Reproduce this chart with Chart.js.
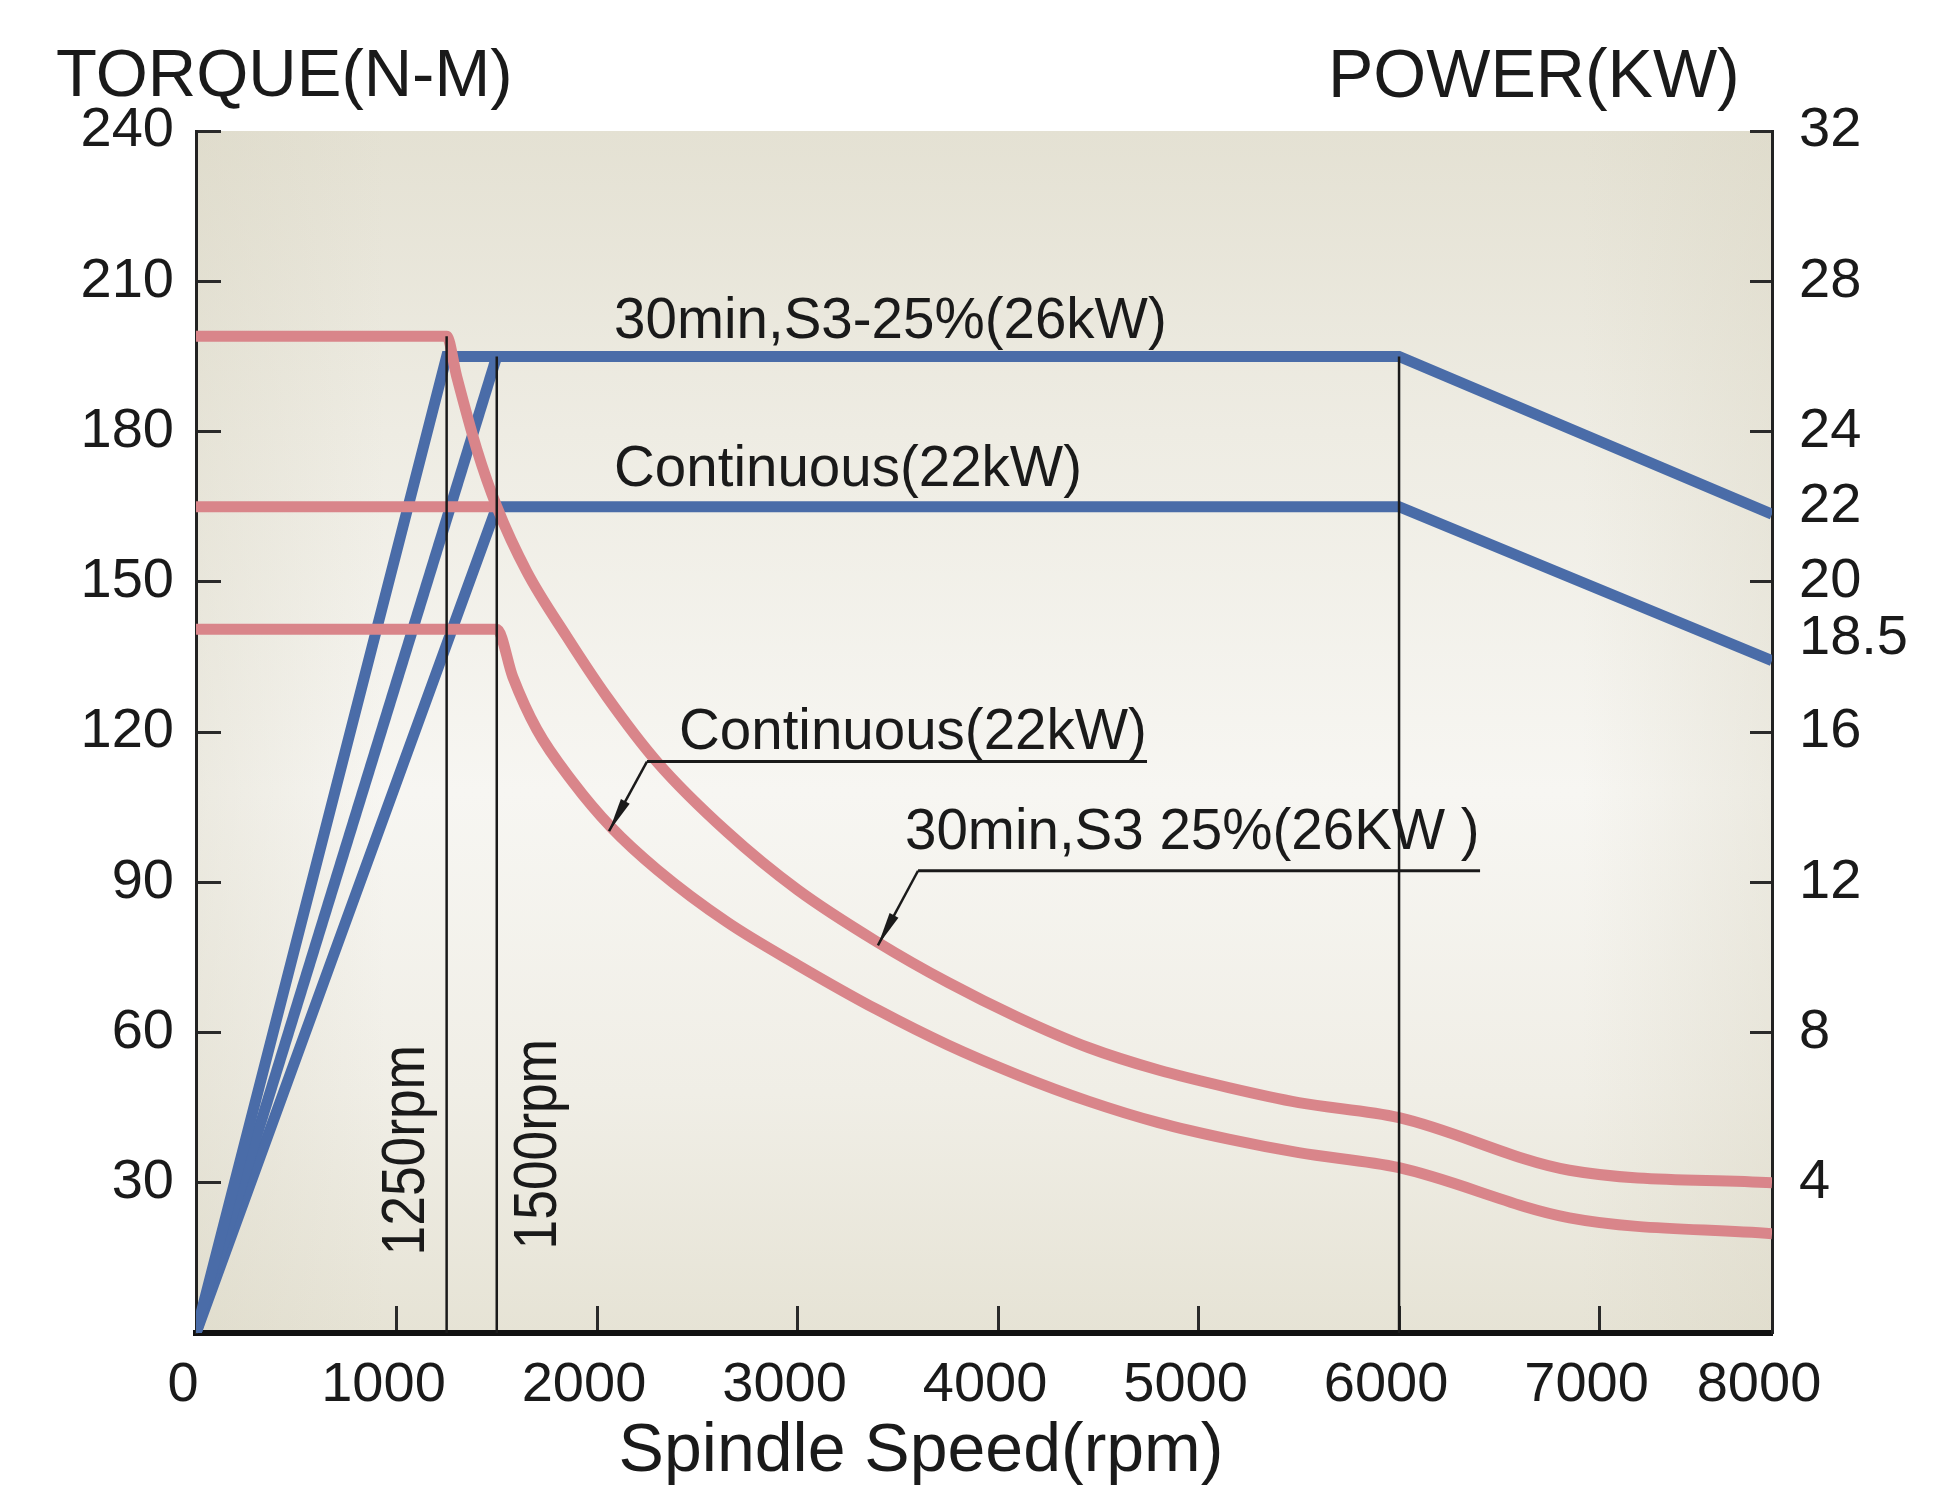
<!DOCTYPE html>
<html>
<head>
<meta charset="utf-8">
<script src="https://cdn.jsdelivr.net/npm/chart.js@4.4.1/dist/chart.umd.min.js"></script>
<style>
html,body{margin:0;padding:0;background:#ffffff;}
#wrap{width:1950px;height:1489px;}
</style>
</head>
<body>
<div id="wrap"><canvas id="c" width="1950" height="1489"></canvas></div>
<script>
// ---------- data ----------
const speedTicks      = [0, 1000, 2000, 3000, 4000, 5000, 6000, 7000, 7860];
const speedTickLabels = ['0','1000','2000','3000','4000','5000','6000','7000','8000'];
const torqueTicks     = [30, 60, 90, 120, 150, 180, 210, 240];
const powerTicks      = [4, 8, 12, 16, 18.5, 20, 22, 24, 28, 32];
const powerTicksNoMark = [18.5, 22];

// Torque (N-M), left axis
const s3TorqueSpeed   = [0, 1250, 1300, 1400, 1500, 1650, 1850, 2050, 2300, 2650, 3000, 3400, 3750, 4100, 4450, 4800, 5150, 5500, 6000, 6850, 7860];
const s3Torque        = [199, 199, 191, 176.5, 165, 152, 139, 127, 114, 100, 88.5, 78, 70, 63, 57, 52.5, 49, 46, 43, 32.5, 30];
const s3bTorqueSpeed  = [0, 1500];
const s3bTorque       = [165, 165];
const contTorqueSpeed = [0, 1500, 1580, 1700, 1880, 2070, 2300, 2650, 3000, 3400, 3750, 4100, 4450, 4800, 5150, 5500, 6000, 6850, 7860];
const contTorque      = [140.5, 140.5, 131, 120.5, 110, 101, 92.5, 82, 73.5, 64.5, 57.5, 51.5, 46.3, 42, 38.7, 36, 33, 23, 19.8];

// Power (KW), right axis
const s3PowerSpeed    = [0, 1250, 6000, 7860];
const s3Power         = [0, 26, 26, 21.8];
const s3bPowerSpeed   = [0, 1500];
const s3bPower        = [0, 26];
const contPowerSpeed  = [0, 1500, 6000, 7860];
const contPower       = [0, 22, 22, 17.9];

// base-speed marker lines
const mark1250Speed = [1250, 1250]; const mark1250Torque = [0, 199];
const mark1500Speed = [1500, 1500]; const mark1500Power  = [0, 26];
const mark6000Speed = [6000, 6000]; const mark6000Power  = [0, 26];

// ---------- helpers ----------
const FONT = '"Liberation Sans", Arial, Helvetica, sans-serif';
const BLUE = '#4a6ca8';
const RED  = '#d9858a';
const INK  = '#1a1a1a';
const pts = (xs, ys) => xs.map((x, i) => ({x: x, y: ys[i]}));

function lineDs(xs, ys, axis, color, width, order, smooth) {
  return {
    data: pts(xs, ys), yAxisID: axis, borderColor: color, borderWidth: width,
    pointRadius: 0, fill: false, order: order, tension: 0,
    cubicInterpolationMode: smooth ? 'monotone' : 'default',
    borderCapStyle: 'butt', borderJoinStyle: smooth ? 'round' : 'miter'
  };
}

const notes = [
  {text: '30min,S3-25%(26kW)', x: 2085, t: 198.7},
  {text: 'Continuous(22kW)',   x: 2085, t: 169.2},
  {text: 'Continuous(22kW)',   x: 2409, t: 116.7, line: {x1: 2249, x2: 4743, t: 114.1}, tip: {x: 2060, t: 100.2}},
  {text: '30min,S3 25%(26KW )', x: 3536, t: 96.6, line: {x1: 3601, x2: 6404, t: 92.3}, tip: {x: 3401, t: 77.4}}
];
const rotNotes = [
  {text: '1250rpm', x: 1050, t: 36.5},
  {text: '1500rpm', x: 1710, t: 37.7}
];

function arrow(ctx, x1, y1, x2, y2) {
  ctx.beginPath(); ctx.moveTo(x1, y1); ctx.lineTo(x2, y2); ctx.stroke();
  const a = Math.atan2(y2 - y1, x2 - x1), L = 34, W = 5;
  ctx.beginPath();
  ctx.moveTo(x2, y2);
  ctx.lineTo(x2 - L*Math.cos(a) + W*Math.sin(a), y2 - L*Math.sin(a) - W*Math.cos(a));
  ctx.lineTo(x2 - L*Math.cos(a) - W*Math.sin(a), y2 - L*Math.sin(a) + W*Math.cos(a));
  ctx.closePath(); ctx.fill();
}

const decor = {
  id: 'decor',
  beforeDraw(chart) {
    const {ctx, chartArea: a} = chart;
    ctx.save();
    const g = ctx.createLinearGradient(0, a.top, 0, a.bottom);
    g.addColorStop(0, '#e4e1d3');
    g.addColorStop(0.25, '#eeece3');
    g.addColorStop(0.55, '#f7f6f2');
    g.addColorStop(0.8, '#f0eee6');
    g.addColorStop(1, '#e6e3d5');
    ctx.fillStyle = g;
    ctx.fillRect(a.left, a.top, a.right - a.left, a.bottom - a.top);
    const h = ctx.createLinearGradient(a.left, 0, a.right, 0);
    h.addColorStop(0, 'rgba(215,211,192,0.35)');
    h.addColorStop(0.12, 'rgba(215,211,192,0)');
    h.addColorStop(0.88, 'rgba(215,211,192,0)');
    h.addColorStop(1, 'rgba(215,211,192,0.35)');
    ctx.fillStyle = h;
    ctx.fillRect(a.left, a.top, a.right - a.left, a.bottom - a.top);
    ctx.restore();
  },
  afterDatasetsDraw(chart) {
    const {ctx} = chart;
    const sx = chart.scales.x, st = chart.scales.torque;
    ctx.save();
    ctx.fillStyle = INK; ctx.strokeStyle = INK;
    ctx.font = '56.5px ' + FONT;
    ctx.textAlign = 'left'; ctx.textBaseline = 'alphabetic';
    notes.forEach(n => {
      ctx.fillText(n.text, sx.getPixelForValue(n.x), st.getPixelForValue(n.t));
      if (n.line) {
        const ly = st.getPixelForValue(n.line.t);
        const lx1 = sx.getPixelForValue(n.line.x1), lx2 = sx.getPixelForValue(n.line.x2);
        ctx.lineWidth = 3;
        ctx.beginPath(); ctx.moveTo(lx1, ly); ctx.lineTo(lx2, ly); ctx.stroke();
        ctx.lineWidth = 2.5;
        arrow(ctx, lx1, ly, sx.getPixelForValue(n.tip.x), st.getPixelForValue(n.tip.t));
      }
    });
    ctx.font = '62px ' + FONT;
    ctx.textAlign = 'center'; ctx.textBaseline = 'middle';
    rotNotes.forEach(n => {
      ctx.save();
      ctx.translate(sx.getPixelForValue(n.x), st.getPixelForValue(n.t));
      ctx.rotate(-Math.PI / 2);
      ctx.scale(0.86, 1);
      ctx.fillText(n.text, 0, 0);
      ctx.restore();
    });
    ctx.restore();
  },
  afterDraw(chart) {
    const {ctx} = chart;
    ctx.save();
    ctx.fillStyle = INK;
    ctx.textBaseline = 'middle';
    ctx.textAlign = 'left';
    ctx.font = '67px ' + FONT;
    ctx.fillText('TORQUE(N-M)', 56, 78);
    ctx.font = '68px ' + FONT;
    ctx.fillText('POWER(KW)', 1328, 78);
    ctx.textAlign = 'center';
    ctx.fillText('Spindle Speed(rpm)', 921, 1452);
    ctx.restore();
  }
};

const tickFont = {family: FONT, size: 56};

new Chart(document.getElementById('c'), {
  type: 'line',
  data: {
    datasets: [
      Object.assign(lineDs(mark1250Speed, mark1250Torque, 'torque', INK, 2.5, 0, false), {label: '1250rpm'}),
      Object.assign(lineDs(mark1500Speed, mark1500Power, 'power', INK, 2.5, 0, false), {label: '1500rpm'}),
      Object.assign(lineDs(mark6000Speed, mark6000Power, 'power', INK, 2.5, 0, false), {label: '6000rpm'}),
      Object.assign(lineDs(s3TorqueSpeed, s3Torque, 'torque', RED, 11, 1, true), {label: 'Torque S3 26kW'}),
      Object.assign(lineDs(s3bTorqueSpeed, s3bTorque, 'torque', RED, 11, 1, false), {label: 'Torque S3 26kW (1500)'}),
      Object.assign(lineDs(contTorqueSpeed, contTorque, 'torque', RED, 11, 1, true), {label: 'Torque Continuous 22kW'}),
      Object.assign(lineDs(s3PowerSpeed, s3Power, 'power', BLUE, 11, 2, false), {label: 'Power S3 26kW'}),
      Object.assign(lineDs(s3bPowerSpeed, s3bPower, 'power', BLUE, 11, 2, false), {label: 'Power S3 26kW (1500)'}),
      Object.assign(lineDs(contPowerSpeed, contPower, 'power', BLUE, 11, 2, false), {label: 'Power Continuous 22kW'})
    ]
  },
  options: {
    responsive: false,
    animation: false,
    devicePixelRatio: 1,
    layout: {padding: {top: 131, left: 0, right: 0, bottom: 0}},
    plugins: {legend: {display: false}, tooltip: {enabled: false}, title: {display: false}},
    scales: {
      x: {
        type: 'linear', position: 'bottom', min: 0, max: 7860,
        afterBuildTicks: s => { s.ticks = speedTicks.map(v => ({value: v})); },
        afterFit: s => { s.height = 156; },
        ticks: {
          autoSkip: false, maxRotation: 0, minRotation: 0,
          font: tickFont, color: INK, padding: 46, labelOffset: -13,
          callback: v => speedTickLabels[speedTicks.indexOf(v)]
        },
        grid: {
          drawOnChartArea: false, drawTicks: true, tickLength: -27, tickWidth: 3,
          tickColor: c => (c.tick && (c.tick.value === 0 || c.tick.value === 7860)) ? 'rgba(0,0,0,0)' : '#2a2a2a'
        },
        border: {display: true, color: '#111', width: 6}
      },
      torque: {
        type: 'linear', position: 'left', min: 0, max: 240,
        afterBuildTicks: s => { s.ticks = torqueTicks.map(v => ({value: v})); },
        afterFit: s => { s.width = 196; },
        ticks: {font: tickFont, color: INK, padding: 47},
        grid: {drawOnChartArea: false, drawTicks: true, tickLength: -25, tickWidth: 3, tickColor: '#2a2a2a'},
        border: {display: true, color: '#222', width: 3}
      },
      power: {
        type: 'linear', position: 'right', min: 0, max: 32,
        afterBuildTicks: s => { s.ticks = powerTicks.map(v => ({value: v})); },
        afterFit: s => { s.width = 178; },
        ticks: {font: tickFont, color: INK, padding: 49, callback: v => String(v)},
        grid: {
          drawOnChartArea: false, drawTicks: true, tickLength: -22, tickWidth: 3,
          tickColor: c => (c.tick && powerTicksNoMark.indexOf(c.tick.value) >= 0) ? 'rgba(0,0,0,0)' : '#2a2a2a'
        },
        border: {display: true, color: '#222', width: 3}
      }
    }
  },
  plugins: [decor]
});
</script>
</body>
</html>
